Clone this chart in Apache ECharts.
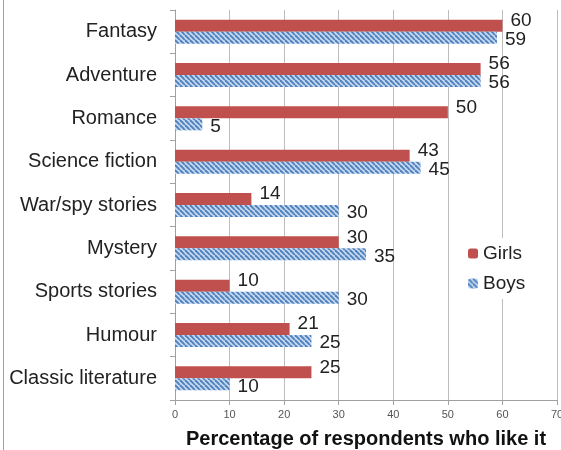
<!DOCTYPE html>
<html><head><meta charset="utf-8">
<script src="https://cdn.jsdelivr.net/npm/echarts@6/dist/echarts.min.js"></script>
<style>html,body{margin:0;padding:0;background:#fff}#c{width:561px;height:450px}
#frame{position:absolute;left:3px;top:0;width:1px;height:450px;background:#a0a0a0}</style>
</head><body><div id="c"></div><div id="frame"></div>
<script>
var categories = ['Fantasy','Adventure','Romance','Science fiction','War/spy stories','Mystery','Sports stories','Humour','Classic literature'];
var girls = [60,56,50,43,14,30,10,21,25];
var boys = [59,56,5,45,30,35,30,25,10];
var xTicks = [0,10,20,30,40,50,60,70];

var s = 5;
var cv = document.createElement('canvas');
cv.width = s; cv.height = s;
var g = cv.getContext('2d');
g.fillStyle = '#c6d9f1'; g.fillRect(0,0,s,s);
g.strokeStyle = '#4f81bd'; g.lineWidth = 1.9;
[-s,0,s].forEach(function(x0){ g.beginPath(); g.moveTo(x0,0); g.lineTo(x0+s,s); g.stroke(); });

var chart = echarts.init(document.getElementById('c'));
chart.setOption({
  animation:false,
  textStyle:{fontFamily:'Liberation Sans, Arial, sans-serif'},
  grid:{left:175,right:4,top:10,bottom:50,containLabel:false,outerBoundsMode:'none'},
  legend:{orient:'vertical',left:464,top:238,itemWidth:10,itemHeight:10,itemGap:11,
    backgroundColor:'#fff',padding:[6,8,6,4],
    textStyle:{fontSize:19,color:'#222'},data:['Girls','Boys']},
  xAxis:{type:'value',min:0,max:70,interval:10,
    name:'Percentage of respondents who like it',nameLocation:'middle',nameGap:29,
    nameTextStyle:{fontSize:20,fontWeight:'bold',color:'#111'},
    axisLine:{show:true,lineStyle:{color:'#a0a0a0'}},
    axisTick:{show:true,length:5,lineStyle:{color:'#a0a0a0'}},
    axisLabel:{fontSize:11,color:'#555',margin:9,formatter:function(v){return xTicks.indexOf(v)>=0?String(v):'';}},
    splitLine:{show:true,lineStyle:{color:'#bdbdbd'}}},
  yAxis:{type:'category',data:categories,inverse:true,
    axisLine:{show:true,lineStyle:{color:'#a0a0a0'}},
    axisTick:{show:true,length:5,lineStyle:{color:'#a0a0a0'}},
    axisLabel:{fontSize:20,color:'#222',margin:18,padding:[6,0,0,0]}},
  series:[
    {name:'Girls',type:'bar',data:girls,barWidth:12,barGap:'0%',
     itemStyle:{color:'#c0504d'},
     label:{show:true,position:'right',distance:8,offset:[0,-5],fontSize:19,color:'#222'}},
    {name:'Boys',type:'bar',data:boys,barWidth:12,barGap:'0%',
     itemStyle:{color:{image:cv,repeat:'repeat'}},
     label:{show:true,position:'right',distance:8,offset:[0,2],fontSize:19,color:'#222'}}
  ]
});
</script></body></html>
